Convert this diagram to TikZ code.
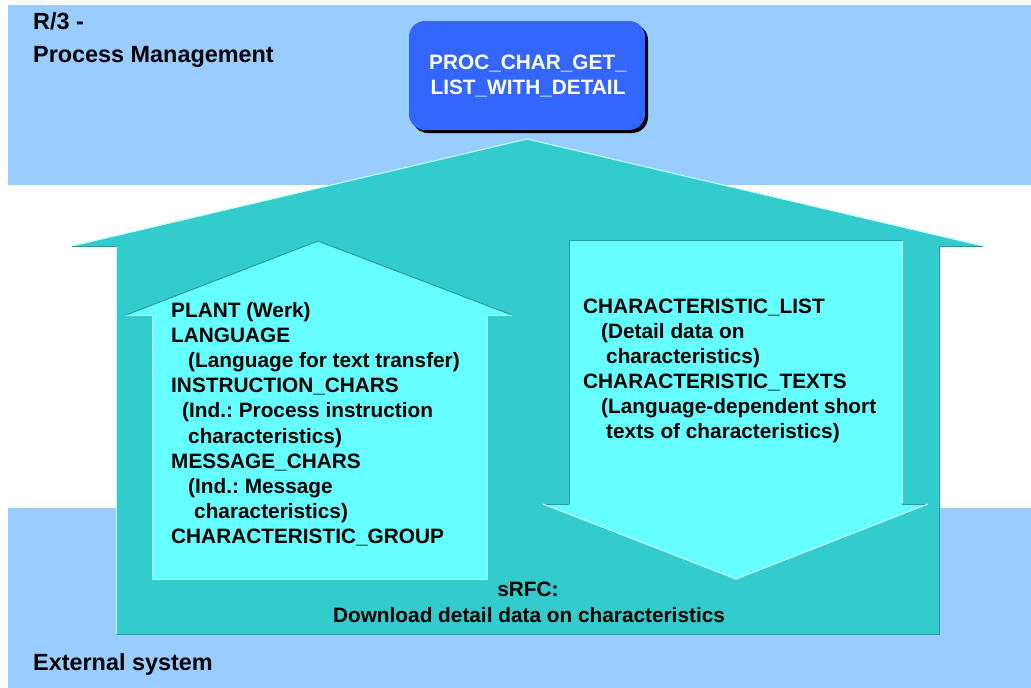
\documentclass[tikz,border=0pt]{standalone}
\usepackage{fontspec}
\setmainfont{Liberation Sans}
\frenchspacing
\definecolor{bandblue}{HTML}{99CCFF}
\definecolor{houseteal}{HTML}{33CCCC}
\definecolor{arrowcyan}{HTML}{66FFFF}
\definecolor{boxblue}{HTML}{3366FF}
\definecolor{darkedge}{HTML}{2A9A9A}
\definecolor{lightedge}{HTML}{C8FFFF}
\begin{document}
\begin{tikzpicture}[x=1pt,y=-1pt,
  txt/.style={anchor=base west,inner sep=0pt,font=\fontsize{20.8}{25}\selectfont\bfseries},
  ctxt/.style={anchor=base,inner sep=0pt,font=\fontsize{20.8}{25}\selectfont\bfseries},
  lbl/.style={anchor=base west,inner sep=0pt,font=\fontsize{23.4}{28}\selectfont\bfseries},
  darkline/.style={draw=darkedge,line width=1pt},
  lightline/.style={draw=lightedge,line width=1pt}]
\useasboundingbox (0,0) rectangle (1031,688);
\fill[white] (0,0) rectangle (1031,688);
% bands
\fill[bandblue] (8,5) rectangle (1031,185);
\fill[bandblue] (8,508) rectangle (1031,688);
% house (big up arrow)
\fill[houseteal] (527,139) -- (983,246) -- (939,246) -- (939,634) -- (116,634) -- (116,246) -- (72,246) -- cycle;
\draw[lightline] (72,246) -- (527,139) -- (983,246);
\draw[lightline] (116,247) -- (116,634);
\draw[darkline] (72,246) -- (116,246);
\draw[darkline] (983,246) -- (939,246) -- (939,634) -- (116,634);
% left up arrow
\fill[arrowcyan] (318,241) -- (512,315) -- (487,315) -- (487,579) -- (152,579) -- (152,315) -- (126,315) -- cycle;
\draw[darkline] (126,315) -- (318,241) -- (512,315);
\draw[lightline] (126,315) -- (152,315) -- (152,579) -- (487,579) -- (487,315) -- (512,315);
% right down arrow
\fill[arrowcyan] (569,240) -- (902,240) -- (902,504) -- (928,504) -- (736,579) -- (543,504) -- (569,504) -- cycle;
\draw[darkline] (569,504) -- (569,240) -- (902,240);
\draw[darkline] (543,504) -- (569,504);
\draw[darkline] (902,504) -- (928,504);
\draw[lightline] (902,241) -- (902,503);
\draw[lightline] (928,504) -- (736,579) -- (543,504);
% function box
\fill[black,rounded corners=16pt] (412,24) rectangle (648,133);
\fill[boxblue,rounded corners=16pt] (409,21) rectangle (645,130);
\node (fn) [inner sep=0pt,align=center,text=white,font=\fontsize{20.8}{25}\selectfont\bfseries] at (528,76) {PROC\_CHAR\_GET\_\\LIST\_WITH\_DETAIL};
% region labels
\node (r3a) [lbl] at (33,29) {R/3 -};
\node (r3b) [lbl] at (33,62) {Process Management};
\node (ext) [lbl] at (33,670) {External system};
% left arrow texts
\node (l1) [txt] at (171,317) {PLANT (Werk)};
\node (l2) [txt] at (171,342.2) {LANGUAGE};
\node (l3) [txt] at (188,367.4) {(Language for text transfer)};
\node (l4) [txt] at (171,392.6) {INSTRUCTION\_CHARS};
\node (l5) [txt] at (182,417.8) {(Ind.: Process instruction};
\node (l6) [txt] at (188,443) {characteristics)};
\node (l7) [txt] at (171,468.2) {MESSAGE\_CHARS};
\node (l8) [txt] at (188,493.4) {(Ind.: Message};
\node (l9) [txt] at (194,518.6) {characteristics)};
\node (l10) [txt] at (171,543.8) {CHARACTERISTIC\_GROUP};
% right arrow texts
\node (q1) [txt] at (583,313) {CHARACTERISTIC\_LIST};
\node (q2) [txt] at (601,338) {(Detail data on};
\node (q3) [txt] at (606,363) {characteristics)};
\node (q4) [txt] at (583,388) {CHARACTERISTIC\_TEXTS};
\node (q5) [txt] at (601,413) {(Language-dependent short};
\node (q6) [txt] at (606,438) {texts of characteristics)};
% bottom caption
\node (s1) [ctxt] at (528,596) {sRFC:};
\node (s2) [ctxt] at (529,622) {Download detail data on characteristics};
\end{tikzpicture}
\end{document}
